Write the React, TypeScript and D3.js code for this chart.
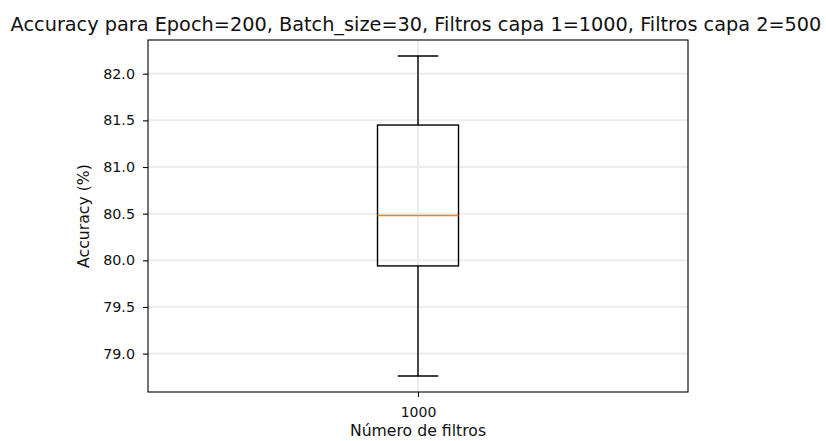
import React, { useEffect, useRef } from "react";
import * as d3 from "d3";

// box statistics
const categories = ["1000"];
const whiskerLow = [78.76];
const q1 = [79.94];
const median = [80.48];
const q3 = [81.45];
const whiskerHigh = [82.19];
const yTicks = [79.0, 79.5, 80.0, 80.5, 81.0, 81.5, 82.0];

const W = 826;
const H = 441;
const FONT = "DejaVu Sans, sans-serif";
const TEXT = "#111";

const App = () => {
  const ref = useRef<SVGSVGElement>(null);

  useEffect(() => {
    const svg = d3.select(ref.current);
    svg.selectAll("*").remove();

    const left = 148;
    const right = 688;
    const top = 40;
    const bottom = 392;

    const lo = d3.min(whiskerLow) as number;
    const hi = d3.max(whiskerHigh) as number;
    const pad = (hi - lo) * 0.05;

    const x = d3.scaleLinear().domain([0.5, categories.length + 0.5]).range([left, right]);
    const y = d3.scaleLinear().domain([lo - pad, hi + pad]).range([bottom, top]);

    // grid
    const grid = svg.append("g").attr("stroke", "#ececec").attr("stroke-width", 2);
    grid
      .selectAll("line.h")
      .data(yTicks)
      .enter()
      .append("line")
      .attr("x1", left)
      .attr("x2", right)
      .attr("y1", (d) => y(d))
      .attr("y2", (d) => y(d));
    grid
      .selectAll("line.v")
      .data(categories)
      .enter()
      .append("line")
      .attr("x1", (_, i) => x(i + 1))
      .attr("x2", (_, i) => x(i + 1))
      .attr("y1", top)
      .attr("y2", bottom);

    // boxes (matplotlib default width 0.15, caps half of that)
    const boxW = (x(1.15) - x(1)) / 2;
    const capW = boxW / 2;
    categories.forEach((c, i) => {
      const cx = x(i + 1);
      const g = svg.append("g").attr("fill", "none").attr("stroke", "#000").attr("stroke-width", 1.4);
      g.append("line").attr("x1", cx).attr("x2", cx).attr("y1", y(q3[i])).attr("y2", y(whiskerHigh[i]));
      g.append("line").attr("x1", cx).attr("x2", cx).attr("y1", y(q1[i])).attr("y2", y(whiskerLow[i]));
      g.append("line").attr("x1", cx - capW).attr("x2", cx + capW).attr("y1", y(whiskerHigh[i])).attr("y2", y(whiskerHigh[i]));
      g.append("line").attr("x1", cx - capW).attr("x2", cx + capW).attr("y1", y(whiskerLow[i])).attr("y2", y(whiskerLow[i]));
      g.append("rect")
        .attr("x", cx - boxW)
        .attr("width", boxW * 2)
        .attr("y", y(q3[i]))
        .attr("height", y(q1[i]) - y(q3[i]));
      svg
        .append("line")
        .attr("x1", cx - boxW)
        .attr("x2", cx + boxW)
        .attr("y1", y(median[i]))
        .attr("y2", y(median[i]))
        .attr("stroke", "#ff7f0e")
        .attr("stroke-width", 1.6);
    });

    // spines
    svg
      .append("rect")
      .attr("x", left)
      .attr("y", top)
      .attr("width", right - left)
      .attr("height", bottom - top)
      .attr("fill", "none")
      .attr("stroke", "#000")
      .attr("stroke-width", 1.1);

    // y axis
    const yAxis = svg
      .append("g")
      .attr("transform", `translate(${left},0)`)
      .call(d3.axisLeft(y).tickValues(yTicks).tickFormat(d3.format(".1f")).tickSize(5).tickPadding(8));
    yAxis.select(".domain").remove();
    yAxis.selectAll("text").attr("font-family", FONT).attr("font-size", 14.3).attr("fill", TEXT);
    yAxis.selectAll("line").attr("stroke", "#000").attr("stroke-width", 1.1);

    // x axis
    const xAxis = svg
      .append("g")
      .attr("transform", `translate(0,${bottom})`)
      .call(
        d3
          .axisBottom(x)
          .tickValues(categories.map((_, i) => i + 1))
          .tickFormat((_, i) => categories[i])
          .tickSize(5)
          .tickPadding(10)
      );
    xAxis.select(".domain").remove();
    xAxis.selectAll("text").attr("font-family", FONT).attr("font-size", 14).attr("fill", TEXT);
    xAxis.selectAll("line").attr("stroke", "#000").attr("stroke-width", 1.1);

    // labels
    svg
      .append("text")
      .attr("x", (left + right) / 2)
      .attr("y", 436)
      .attr("text-anchor", "middle")
      .attr("font-family", FONT)
      .attr("font-size", 15.7)
      .attr("fill", TEXT)
      .text("Número de filtros");
    svg
      .append("text")
      .attr("transform", `translate(89,${(top + bottom) / 2}) rotate(-90)`)
      .attr("text-anchor", "middle")
      .attr("font-family", FONT)
      .attr("font-size", 15.7)
      .attr("fill", TEXT)
      .text("Accuracy (%)");
    svg
      .append("text")
      .attr("x", 416)
      .attr("y", 31)
      .attr("text-anchor", "middle")
      .attr("font-family", FONT)
      .attr("font-size", 19.3)
      .attr("fill", TEXT)
      .text("Accuracy para Epoch=200, Batch_size=30, Filtros capa 1=1000, Filtros capa 2=500");

    return () => {
      svg.selectAll("*").remove();
    };
  }, []);

  return (
    <svg
      ref={ref}
      width={W}
      height={H}
      style={{ position: "absolute", left: 0, top: 0, background: "#fff" }}
    ></svg>
  );
};

export default App;
